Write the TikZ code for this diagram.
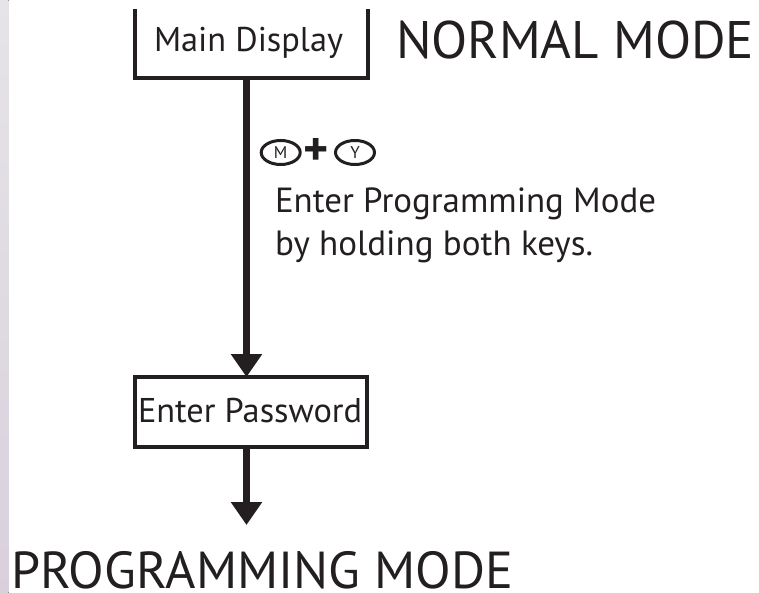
\documentclass[tikz,border=0pt]{standalone}
\usepackage{fontspec}
\setmainfont{PT Sans}
\usetikzlibrary{arrows.meta,shapes.geometric}
\definecolor{ink}{HTML}{231F20}
\definecolor{stripA}{HTML}{E6E4E8}
\definecolor{stripB}{HTML}{B8B7BD}
\definecolor{stripC}{HTML}{D9D0DC}
\begin{document}
\begin{tikzpicture}[x=1pt,y=-1pt,
  boxline/.style={draw=ink, line width=4pt, line join=miter},
  flow/.style={draw=ink, line width=6.5pt, -{Triangle[width=30pt,length=23pt]}},
  txt/.style={inner sep=0pt, outer sep=0pt, text=ink, anchor=base west},
  keycap/.style={draw=ink, line width=3pt, ellipse, minimum width=39pt, minimum height=24pt, inner sep=0pt, text=ink}
]
\useasboundingbox (0,0) rectangle (759,593);
\fill[white] (0,0) rectangle (759,593);
\fill[top color=stripA, middle color=stripB, bottom color=stripC] (0,0) rectangle (8.5,593);

% Main Display (open top box)
\node[minimum width=233pt, minimum height=69pt, inner sep=0pt, outer sep=0pt] (md) at (251.5,44) {};
\draw[boxline] (md.north west) -- (md.south west) -- (md.south east) -- (md.north east);
\node[txt] (mdt) at (154,52) {\resizebox{189pt}{!}{Main Display}};
\node[txt] (normal) at (396,59) {\resizebox{358pt}{!}{NORMAL MODE}};

% Enter Password box
\node[boxline, minimum width=232pt, minimum height=70pt, inner sep=0pt, outer sep=0pt] (pw) at (251,412) {};
\node[txt] (pwt) at (138,422) {\resizebox{224pt}{!}{Enter Password}};

% arrows
\draw[flow] ([xshift=-5pt]md.south) -- ([xshift=-4.5pt]pw.north);
\coordinate (endpt) at (246.5,525);
\draw[flow] ([xshift=-4.5pt]pw.south) -- (endpt);

% keys
\node[keycap] (km) at (280.7,152.5) {\fontsize{17}{17}\selectfont M};
\node[inner sep=0pt, text=ink] (plus) at (316.5,152) {\bfseries\fontsize{48}{48}\selectfont +};
\node[keycap] (ky) at (355,152.5) {\fontsize{17}{17}\selectfont Y};

% description
\node[txt] (l1) at (275,213) {\resizebox{381pt}{!}{Enter Programming Mode}};
\node[txt] (l2) at (275,255) {\resizebox{318pt}{!}{by holding both keys.}};

\node[txt] (prog) at (11,588) {\resizebox{502pt}{!}{PROGRAMMING MODE}};
\end{tikzpicture}
\end{document}
